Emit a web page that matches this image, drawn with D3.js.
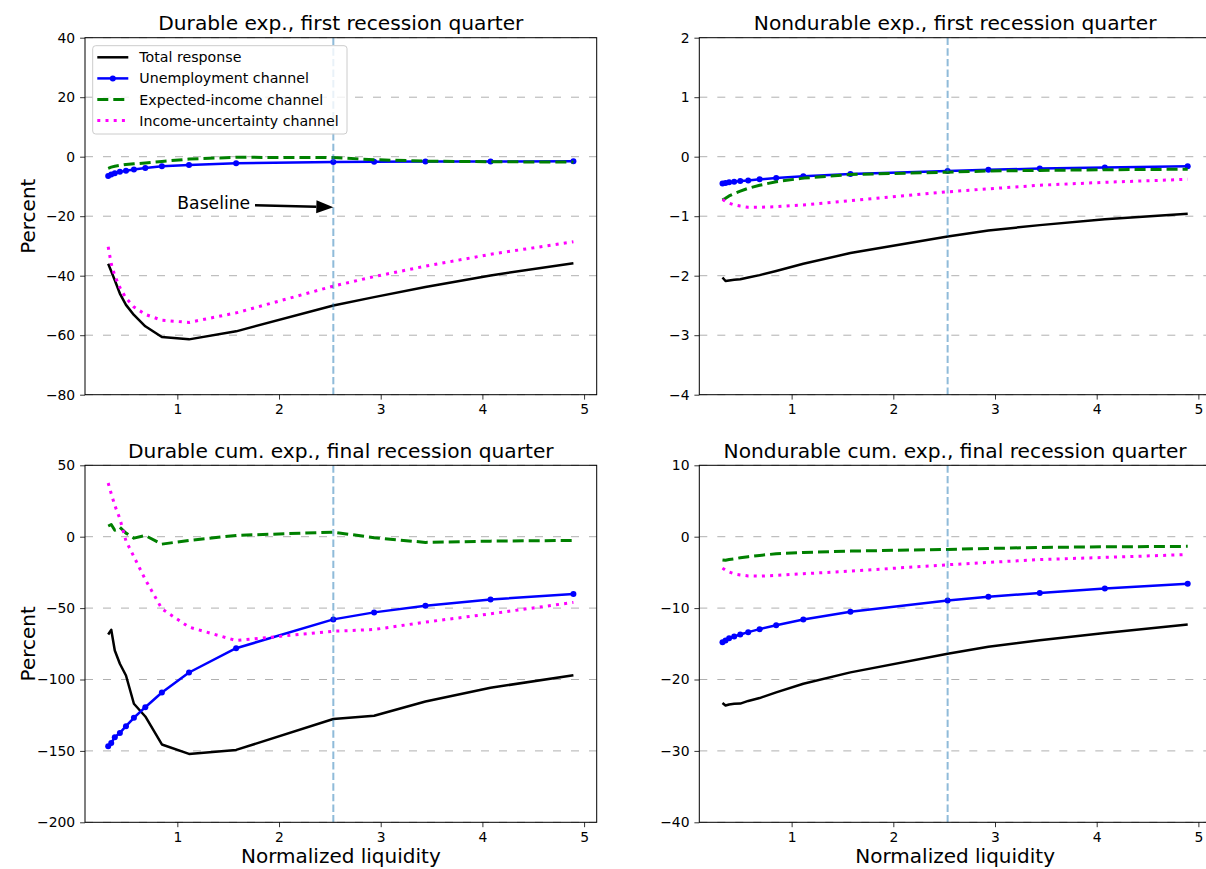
<!DOCTYPE html>
<html>
<head>
<meta charset="utf-8">
<script src="https://cdn.jsdelivr.net/npm/d3@7"></script>
<style>
  body { margin: 0; background: #fff; }
  svg { display: block; font-family: "DejaVu Sans", sans-serif; }
</style>
</head>
<body>
<svg width="1206" height="869"></svg>
<script>
// normalized liquidity grid (x of every point)
const liquidity = [0.32, 0.35, 0.385, 0.435, 0.495, 0.573, 0.685, 0.848, 1.115, 1.578, 2.534, 2.935, 3.44, 4.08, 4.895];
const baselineLiquidity = 2.534;

// durable exp., first recession quarter
const durFirstTotal  = [-36, -38.5, -41.5, -46, -49.8, -53.2, -57, -60.6, -61.4, -58.7, -50, -47.2, -43.8, -39.9, -35.8];
const durFirstUnemp  = [-6.5, -6.0, -5.6, -5.1, -4.7, -4.3, -3.8, -3.2, -2.8, -2.2, -1.8, -1.7, -1.6, -1.6, -1.5];
const durFirstExpInc = [-3.9, -3.5, -3.2, -2.9, -2.6, -2.4, -2.1, -1.6, -0.8, -0.2, -0.3, -1.0, -1.5, -1.7, -1.8];
const durFirstUncert = [-30.3, -36, -40, -44, -47.5, -50.5, -53, -55, -55.7, -52.5, -43.5, -40.3, -36.8, -32.8, -28.6];

// nondurable exp., first recession quarter
const nondFirstTotal  = [-2.03, -2.09, -2.08, -2.07, -2.06, -2.03, -1.99, -1.92, -1.80, -1.62, -1.34, -1.24, -1.15, -1.05, -0.96];
const nondFirstUnemp  = [-0.45, -0.44, -0.43, -0.42, -0.41, -0.40, -0.38, -0.36, -0.33, -0.29, -0.24, -0.22, -0.20, -0.18, -0.16];
const nondFirstExpInc = [-0.73, -0.70, -0.66, -0.62, -0.58, -0.53, -0.48, -0.42, -0.36, -0.30, -0.26, -0.24, -0.23, -0.22, -0.21];
const nondFirstUncert = [-0.72, -0.75, -0.78, -0.81, -0.83, -0.85, -0.85, -0.84, -0.81, -0.74, -0.59, -0.54, -0.48, -0.43, -0.38];

// durable cum. exp., final recession quarter
const durCumTotal  = [-68.5, -65.2, -79.7, -89, -97.2, -117, -125.9, -145.5, -152.1, -149.3, -127.7, -125.4, -115.4, -105.8, -97.0];
const durCumUnemp  = [-146.7, -144.4, -140.4, -137.4, -132.7, -126.8, -119.4, -109.1, -95.1, -78.1, -57.9, -53.0, -48.4, -43.9, -40.2];
const durCumExpInc = [7.5, 8.5, 4.5, 6.5, 2.5, -1.0, 0.8, -5.2, -2.6, 0.9, 3.2, -0.7, -4.0, -3.1, -2.6];
const durCumUncert = [37.6, 30.1, 21.9, 12.6, -3, -14, -30, -50.5, -63.3, -72.7, -66.2, -65.0, -59.8, -54.0, -46.0];

// nondurable cum. exp., final recession quarter
const nondCumTotal  = [-23.3, -23.65, -23.5, -23.4, -23.37, -23.0, -22.6, -21.8, -20.6, -19.0, -16.4, -15.4, -14.5, -13.5, -12.3];
const nondCumUnemp  = [-14.77, -14.53, -14.21, -13.97, -13.69, -13.37, -12.95, -12.39, -11.59, -10.51, -8.93, -8.4, -7.9, -7.25, -6.6];
const nondCumExpInc = [-3.25, -3.3, -3.2, -3.1, -2.95, -2.8, -2.62, -2.39, -2.2, -2.02, -1.78, -1.65, -1.5, -1.42, -1.35];
const nondCumUncert = [-4.4, -4.7, -4.95, -5.2, -5.35, -5.5, -5.52, -5.42, -5.19, -4.82, -3.93, -3.6, -3.2, -2.9, -2.5];

const seriesNames = ["Total response", "Unemployment channel", "Expected-income channel", "Income-uncertainty channel"];
const titles = [
  "Durable exp., first recession quarter",
  "Nondurable exp., first recession quarter",
  "Durable cum. exp., final recession quarter",
  "Nondurable cum. exp., final recession quarter"
];
const xTicks = [1, 2, 3, 4, 5];
const yTicks1 = [-80, -60, -40, -20, 0, 20, 40];
const yTicks2 = [-4, -3, -2, -1, 0, 1, 2];
const yTicks3 = [-200, -150, -100, -50, 0, 50];
const yTicks4 = [-40, -30, -20, -10, 0, 10];

const styles = [
  {color: "#000000", width: 2.5, dash: null, marker: false},
  {color: "#0000ff", width: 2.5, dash: null, marker: true},
  {color: "#008000", width: 3, dash: "11,5", marker: false},
  {color: "#ff00ff", width: 3, dash: "3,5.2", marker: false}
];

const panelW = 511.7, panelH = 357;
const panels = [
  {left: 85,    top: 37.7,  title: titles[0], yTicks: yTicks1, series: [durFirstTotal, durFirstUnemp, durFirstExpInc, durFirstUncert], ylabel: true,  xlabel: false, legend: true, note: true},
  {left: 699.3, top: 37.7,  title: titles[1], yTicks: yTicks2, series: [nondFirstTotal, nondFirstUnemp, nondFirstExpInc, nondFirstUncert], ylabel: false, xlabel: false},
  {left: 85,    top: 465.3, title: titles[2], yTicks: yTicks3, series: [durCumTotal, durCumUnemp, durCumExpInc, durCumUncert], ylabel: true,  xlabel: true},
  {left: 699.3, top: 465.3, title: titles[3], yTicks: yTicks4, series: [nondCumTotal, nondCumUnemp, nondCumExpInc, nondCumUncert], ylabel: false, xlabel: true}
];

const svg = d3.select("svg");

panels.forEach(p => {
  const x = d3.scaleLinear().domain([0.092, 5.124]).range([p.left, p.left + panelW]);
  const y = d3.scaleLinear().domain(d3.extent(p.yTicks)).range([p.top + panelH, p.top]);
  const g = svg.append("g");

  // grid
  g.selectAll(".grid").data(p.yTicks).join("line")
    .attr("x1", p.left).attr("x2", p.left + panelW)
    .attr("y1", d => y(d)).attr("y2", d => y(d))
    .attr("stroke", "#b0b0b0").attr("stroke-width", 1)
    .attr("stroke-dasharray", "8,10");

  const line = d3.line().x(d => x(d[0])).y(d => y(d[1]));

  p.series.forEach((vals, i) => {
    const st = styles[i];
    const pts = liquidity.map((lq, k) => [lq, vals[k]]);
    g.append("path").datum(pts)
      .attr("d", line)
      .attr("fill", "none")
      .attr("stroke", st.color)
      .attr("stroke-width", st.width)
      .attr("stroke-dasharray", st.dash)
      .attr("stroke-linejoin", "round");
    if (st.marker) {
      g.selectAll(".mk" + i).data(pts).join("circle")
        .attr("cx", d => x(d[0])).attr("cy", d => y(d[1]))
        .attr("r", 3).attr("fill", st.color);
    }
  });

  // baseline vertical
  g.append("line")
    .attr("x1", x(baselineLiquidity)).attr("x2", x(baselineLiquidity))
    .attr("y1", p.top).attr("y2", p.top + panelH)
    .attr("stroke", "#1f77b4").attr("stroke-opacity", 0.5)
    .attr("stroke-width", 2).attr("stroke-dasharray", "7.4,3.2");

  // axes
  const ax = g.append("g").attr("transform", `translate(0,${p.top + panelH})`)
    .call(d3.axisBottom(x).tickValues(xTicks).tickFormat(d3.format("d")).tickSize(4.9).tickPadding(4.9));
  const ay = g.append("g").attr("transform", `translate(${p.left},0)`)
    .call(d3.axisLeft(y).tickValues(p.yTicks).tickFormat(d3.format("d")).tickSize(4.9).tickPadding(4.9));
  [ax, ay].forEach(a => {
    a.select(".domain").remove();
    a.selectAll("text").attr("font-size", 13.9).attr("font-family", "DejaVu Sans").attr("fill", "#000");
    a.selectAll("line").attr("stroke", "#000").attr("stroke-width", 0.8);
  });

  // spines
  g.append("rect").attr("x", p.left).attr("y", p.top).attr("width", panelW).attr("height", panelH)
    .attr("fill", "none").attr("stroke", "#000").attr("stroke-width", 1);

  g.append("text").attr("x", p.left + panelW / 2).attr("y", p.top - 7.7)
    .attr("text-anchor", "middle").attr("font-size", 20.2).text(p.title);

  if (p.ylabel) {
    g.append("text")
      .attr("transform", `translate(35,${p.top + panelH / 2}) rotate(-90)`)
      .attr("text-anchor", "middle").attr("font-size", 20).text("Percent");
  }
  if (p.xlabel) {
    g.append("text").attr("x", p.left + panelW / 2).attr("y", 863)
      .attr("text-anchor", "middle").attr("font-size", 20).text("Normalized liquidity");
  }

  if (p.note) {
    g.append("text").attr("x", x(1.0)).attr("y", y(-16))
      .attr("dominant-baseline", "middle").attr("font-size", 17.2).text("Baseline");
    const x0 = x(1.764), y0 = y(-16.3), x1 = x(baselineLiquidity), y1 = y(-17);
    const ang = Math.atan2(y1 - y0, x1 - x0), hl = 17, hw = 6.5;
    const bx = x1 - hl * Math.cos(ang), by = y1 - hl * Math.sin(ang);
    g.append("line").attr("x1", x0).attr("y1", y0).attr("x2", bx).attr("y2", by)
      .attr("stroke", "#000").attr("stroke-width", 2.5);
    g.append("path")
      .attr("d", `M${x1},${y1}L${bx - hw * Math.sin(ang)},${by + hw * Math.cos(ang)}L${bx + hw * Math.sin(ang)},${by - hw * Math.cos(ang)}Z`)
      .attr("fill", "#000");
  }

  if (p.legend) {
    const lg = g.append("g");
    lg.append("rect").attr("x", 92.7).attr("y", 45.7).attr("width", 254.3).attr("height", 88.3)
      .attr("rx", 3).attr("fill", "#fff").attr("fill-opacity", 0.8)
      .attr("stroke", "#cccccc").attr("stroke-width", 1);
    seriesNames.forEach((name, i) => {
      const cy = 57.3 + i * 21.1, st = styles[i];
      lg.append("line").attr("x1", 97.3).attr("x2", 128.3).attr("y1", cy).attr("y2", cy)
        .attr("stroke", st.color).attr("stroke-width", st.width).attr("stroke-dasharray", st.dash);
      if (st.marker) lg.append("circle").attr("cx", 112.8).attr("cy", cy).attr("r", 3).attr("fill", st.color);
      lg.append("text").attr("x", 139.3).attr("y", cy).attr("dominant-baseline", "central")
        .attr("font-size", 14.2).text(name);
    });
  }
});
</script>
</body>
</html>
